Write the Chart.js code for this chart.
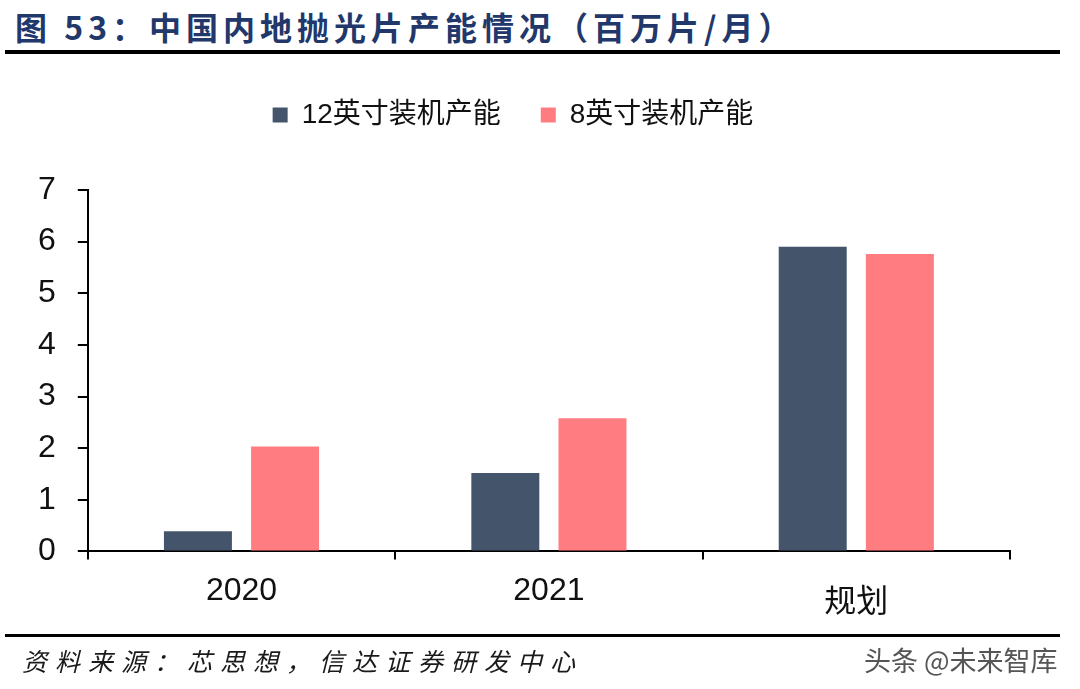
<!DOCTYPE html>
<html>
<head>
<meta charset="utf-8">
<script src="https://cdn.jsdelivr.net/npm/chart.js@4/dist/chart.umd.min.js"></script>
<style>
  html, body { margin: 0; padding: 0; background: #fff; }
  body { width: 1080px; height: 689px; position: relative; overflow: hidden; }
  #title {
    position: absolute; left: 15px; top: 3px;
    font: bold 32px "Noto Sans CJK SC", sans-serif;
    color: #22386b; letter-spacing: 5px; white-space: nowrap;
  }
  .rule { position: absolute; left: 5px; width: 1055px; background: #000; }
  #source {
    position: absolute; left: 22px; top: 642px;
    font: italic 25px "Noto Sans CJK SC", sans-serif;
    color: #1a1a1a; letter-spacing: 8px; white-space: nowrap;
  }
  #mark {
    position: absolute; left: 864px; top: 640px;
    font: 27px "Noto Sans CJK SC", sans-serif;
    color: #555; white-space: nowrap;
  }
  #wrap { position: absolute; left: 0; top: 0; width: 1080px; height: 689px; }
</style>
</head>
<body>
<div id="title">图 53：中国内地抛光片产能情况（百万片/月）</div>
<div class="rule" style="top:50px;height:4px"></div>
<div id="wrap"><canvas id="chart"></canvas></div>
<div class="rule" style="top:634px;height:3px"></div>
<div id="source">资料来源：芯思想，信达证券研发中心</div>
<div id="mark">头条 @未来智库</div>
<script>
const categories = ['2020', '2021', ['', '规划']];
const series12 = [0.39, 1.52, 5.90];
const series8 = [2.03, 2.58, 5.76];
const seriesNames = ['12英寸装机产能', '8英寸装机产能'];
const yTicks = [0, 1, 2, 3, 4, 5, 6, 7];

// push the plot area down below the legend
const legendGap = {
  id: 'legendGap',
  beforeInit(chart) {
    const fit = chart.legend.fit;
    chart.legend.fit = function () {
      fit.bind(chart.legend)();
      this.height += 51;
    };
  },
};

const ctx = document.getElementById('chart').getContext('2d');
new Chart(ctx, {
  type: 'bar',
  data: {
    labels: categories,
    datasets: [
      { label: seriesNames[0], data: series12, backgroundColor: '#44546a' },
      { label: seriesNames[1], data: series8, backgroundColor: '#ff7c80' },
    ],
  },
  options: {
    responsive: true,
    maintainAspectRatio: false,
    animation: false,
    events: [],
    layout: { padding: { top: 61, left: 16, right: 70, bottom: 54 } },
    datasets: { bar: { categoryPercentage: 0.567, barPercentage: 0.78 } },
    plugins: {
      legend: {
        labels: {
          boxWidth: 15,
          boxHeight: 15,
          padding: 40,
          color: '#111',
          font: { family: '"Liberation Sans", "Noto Sans CJK SC", sans-serif', size: 28 },
        },
      },
      tooltip: { enabled: false },
    },
    scales: {
      x: {
        border: { color: '#000', width: 2 },
        grid: { drawOnChartArea: false, offset: true, tickLength: 8, color: '#000', lineWidth: 2 },
        ticks: {
          color: '#111',
          padding: 25,
          font: { family: '"Liberation Sans", "Noto Sans CJK SC", sans-serif', size: 32, lineHeight: 0.4 },
        },
      },
      y: {
        min: 0,
        max: 7,
        afterBuildTicks(scale) { scale.ticks = yTicks.map((v) => ({ value: v })); },
        border: { color: '#000', width: 2 },
        grid: { drawOnChartArea: false, tickLength: 10, color: '#000', lineWidth: 2 },
        ticks: {
          color: '#111',
          padding: 22,
          font: { family: '"Liberation Sans", sans-serif', size: 32 },
        },
      },
    },
  },
  plugins: [legendGap],
});
</script>
</body>
</html>
